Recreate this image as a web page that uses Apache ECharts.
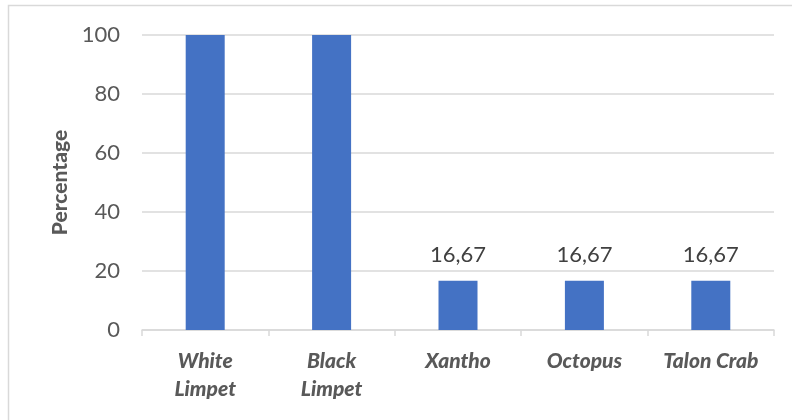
<!DOCTYPE html>
<html>
<head>
<meta charset="utf-8">
<script src="https://cdn.jsdelivr.net/npm/echarts@6/dist/echarts.min.js"></script>
<style>
  html, body { margin: 0; padding: 0; background: #ffffff; }
  #chart { width: 792px; height: 420px; }
</style>
</head>
<body>
<div id="chart"></div>
<script>
// Species and share of samples in which each was found (%)
const categories = ['White\nLimpet', 'Black\nLimpet', 'Xantho', 'Octopus', 'Talon Crab'];
const percentages = [100, 100, 16.67, 16.67, 16.67];
// Values that carry a label above the bar
const labelled = [false, false, true, true, true];
const yTicks = { min: 0, max: 100, interval: 20 };

const FONT = 'Lato, "Open Sans", sans-serif';
const chart = echarts.init(document.getElementById('chart'), null, { renderer: 'canvas' });

chart.setOption({
  animation: false,
  backgroundColor: '#ffffff',
  graphic: [{
    type: 'rect',
    shape: { x: 8.5, y: 5.5, width: 820, height: 440 },
    style: { fill: 'none', stroke: '#d9d9d9', lineWidth: 1.5 },
    silent: true
  }],
  grid: { left: 142, right: 18, top: 35, bottom: 90 },
  xAxis: {
    type: 'category',
    data: categories,
    axisLine: { lineStyle: { color: '#d9d9d9', width: 1.5 } },
    axisTick: { show: true, length: 6, lineStyle: { color: '#d9d9d9', width: 1.5 } },
    axisLabel: {
      color: '#595959',
      fontFamily: FONT,
      fontSize: 21,
      fontStyle: 'italic',
      fontWeight: 900,
      lineHeight: 28,
      margin: 17,
      interval: 0
    }
  },
  yAxis: {
    type: 'value',
    min: yTicks.min,
    max: yTicks.max,
    interval: yTicks.interval,
    name: 'Percentage',
    nameLocation: 'middle',
    nameGap: 70,
    nameTextStyle: { color: '#595959', fontFamily: FONT, fontSize: 21, fontWeight: 900 },
    axisLine: { show: false },
    axisTick: { show: false },
    axisLabel: { color: '#595959', fontFamily: FONT, fontSize: 22, margin: 22 },
    splitLine: { lineStyle: { color: '#d9d9d9', width: 1.5 } }
  },
  series: [{
    type: 'bar',
    data: percentages.map((v, i) => ({
      value: v,
      label: {
        show: labelled[i],
        position: 'top',
        distance: 15,
        color: '#404040',
        fontFamily: FONT,
        fontSize: 22,
        formatter: p => p.value.toFixed(2).replace('.', ',')
      }
    })),
    barWidth: 39,
    itemStyle: { color: '#4472c4' }
  }]
});
</script>
</body>
</html>
